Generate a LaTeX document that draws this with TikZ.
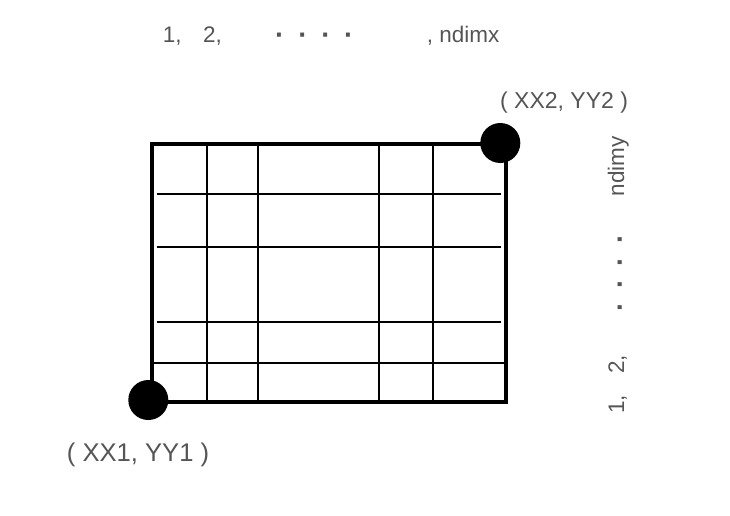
\documentclass[tikz,border=0pt]{standalone}
\usepackage{fontspec}
\setmainfont{Liberation Sans}
\definecolor{txtgray}{RGB}{85,85,85}
\begin{document}
\begin{tikzpicture}[x=1pt,y=-1pt,
  lbl/.style={text=txtgray,inner sep=0pt,anchor=base west,font=\fontsize{22.5}{27}\selectfont},
  biglbl/.style={text=txtgray,inner sep=0pt,anchor=base west},
  dotmark/.style={text=txtgray,inner sep=0pt,anchor=base,font=\fontsize{28}{32}\selectfont\bfseries},
  frame/.style={line width=4pt},
  gridline/.style={line width=1.7pt},
  corner/.style={circle,fill=black,minimum size=40pt,inner sep=0pt}]
\useasboundingbox (0,0) rectangle (730,515);
% grid
\foreach \x in {206.7,257.7,379,432.7}
  \draw[gridline] (\x,143.7) -- (\x,402);
\foreach \y in {194.3,246.7,321.7}
  \draw[gridline] (156.7,\y) -- (500.7,\y);
\draw[gridline] (152,362.7) -- (505.5,362.7);
\draw[frame] (152,143.7) rectangle (505.5,402);
% corners
\node[corner] (c1) at (148.3,400) {};
\node[corner] (c2) at (500.3,143) {};
% corner labels
\node[biglbl,font=\fontsize{23}{27}\selectfont] (l2) at (500,108.3) {( XX2, YY2 )};
\node[biglbl,font=\fontsize{25.6}{30}\selectfont] (l1) at (66.7,461.7) {( XX1, YY1 )};
% top axis
\node[lbl] (t1) at (162.7,42.7) {1,};
\node[lbl] (t2) at (203,42.7) {2,};
\node[dotmark] (td1) at (279.7,44.3) {·};
\node[dotmark] (td2) at (303,44.3) {·};
\node[dotmark] (td3) at (326,44.3) {·};
\node[dotmark] (td4) at (348.7,44.3) {·};
\node[lbl] (tn) at (426.7,42.7) {, ndimx};
% right axis
\node[lbl,rotate=90] (r1) at (624,414) {1,};
\node[lbl,rotate=90] (r2) at (624,374) {2,};
\node[dotmark,rotate=90] (rd1) at (629,238.7) {·};
\node[dotmark,rotate=90] (rd2) at (629,262) {·};
\node[dotmark,rotate=90] (rd3) at (629,283.7) {·};
\node[dotmark,rotate=90] (rd4) at (629,307) {·};
\node[lbl,rotate=90] (rn) at (624,196.7) {ndimy};
\end{tikzpicture}
\end{document}
